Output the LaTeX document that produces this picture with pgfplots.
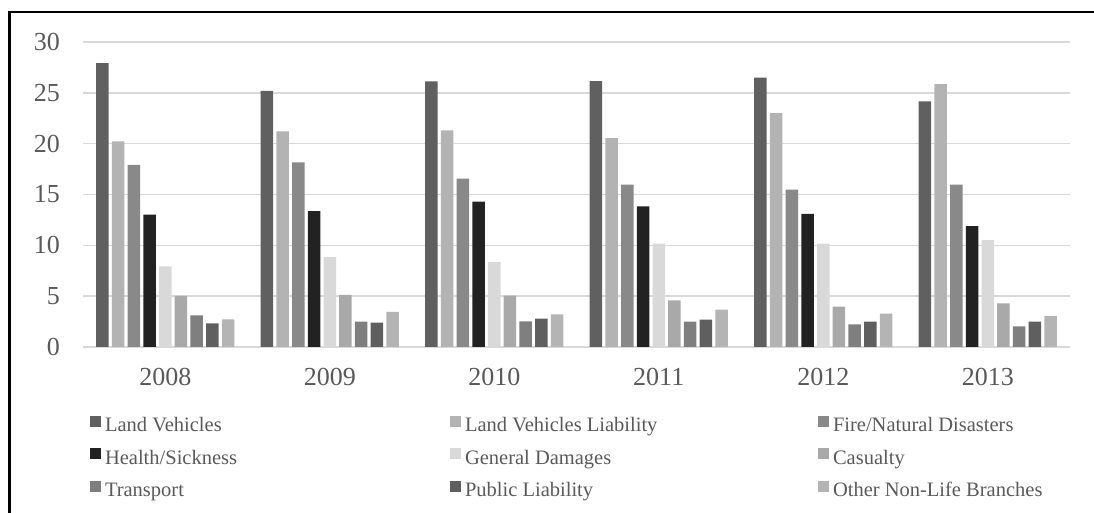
\documentclass[border=0pt]{standalone}
\usepackage{fontspec}
\setmainfont{Liberation Serif}
\usepackage{pgfplots}
\usepackage{pgfplotstable}
\pgfplotsset{compat=1.18}
\definecolor{txt}{HTML}{595959}
\definecolor{gridc}{HTML}{D9D9D9}
\definecolor{cLV}{HTML}{606060}
\definecolor{cLVL}{HTML}{B3B3B3}
\definecolor{cFire}{HTML}{898989}
\definecolor{cHealth}{HTML}{222222}
\definecolor{cGD}{HTML}{D9D9D9}
\definecolor{cCas}{HTML}{A9A9A9}
\definecolor{cTr}{HTML}{7F7F7F}
\definecolor{cPL}{HTML}{5F5F5F}
\definecolor{cOth}{HTML}{B4B4B4}
\pgfplotstableread{
x LV LVL Fire Health GD Cas Tr PL Oth
0 27.93 20.22 17.92 13.03 7.94 5.02 3.12 2.33 2.72
1 25.20 21.20 18.15 13.36 8.83 5.12 2.49 2.40 3.45
2 26.12 21.30 16.57 14.31 8.34 5.05 2.53 2.79 3.22
3 26.16 20.55 15.98 13.82 10.17 4.59 2.49 2.69 3.68
4 26.49 23.00 15.49 13.10 10.17 3.97 2.23 2.49 3.28
5 24.15 25.86 15.98 11.88 10.50 4.30 2.03 2.49 3.05
}\data
\newcommand{\colA}[1]{\makebox[345bp][l]{#1}}
\newcommand{\colB}[1]{\makebox[353bp][l]{#1}}
\begin{document}
\begin{tikzpicture}
\useasboundingbox (0,0) rectangle (1094bp,513bp);
\begin{axis}[
  scale only axis,
  width=987bp, height=305bp,
  at={(83bp,166bp)}, anchor=south west,
  ybar=3.2bp, bar width=12.5bp,
  xmin=-0.5, xmax=5.5, ymin=0, ymax=30,
  enlargelimits=false,
  xtick=data,
  xticklabels={2008,2009,2010,2011,2012,2013},
  ytick={0,5,10,15,20,25,30},
  axis line style={draw=none},
  major tick length=0pt,
  ymajorgrids,
  grid style={gridc, line width=1.5bp},
  /pgf/number format/assume math mode=true,
  ticklabel style={font=\fontsize{26bp}{30bp}\selectfont, text=txt, inner sep=0pt},
  xticklabel style={anchor=north, yshift=-21bp},
  yticklabel style={anchor=east, xshift=-23bp},
  legend columns=3,
  legend image code/.code={\fill[#1,draw=none] (0bp,1.2bp) rectangle (11bp,12.2bp); \path (15bp,0bp);},
  legend style={draw=none, fill=none, inner sep=0pt, outer sep=0pt,
    at={(0.00709,-0.2121)}, anchor=north west,
    row sep=0pt, column sep=0pt,
    font=\fontsize{20.5bp}{24bp}\selectfont, text=txt,
    nodes={inner sep=0pt, text height=20bp, text depth=12.5bp}},
  legend cell align=left,
]
\addplot[fill=cLV, draw=none] table[x=x,y=LV] {\data};
\addlegendentry{\colA{Land Vehicles}}
\addplot[fill=cLVL, draw=none] table[x=x,y=LVL] {\data};
\addlegendentry{\colB{Land Vehicles Liability}}
\addplot[fill=cFire, draw=none] table[x=x,y=Fire] {\data};
\addlegendentry{Fire/Natural Disasters}
\addplot[fill=cHealth, draw=none] table[x=x,y=Health] {\data};
\addlegendentry{\colA{Health/Sickness}}
\addplot[fill=cGD, draw=none] table[x=x,y=GD] {\data};
\addlegendentry{\colB{General Damages}}
\addplot[fill=cCas, draw=none] table[x=x,y=Cas] {\data};
\addlegendentry{Casualty}
\addplot[fill=cTr, draw=none] table[x=x,y=Tr] {\data};
\addlegendentry{\colA{Transport}}
\addplot[fill=cPL, draw=none] table[x=x,y=PL] {\data};
\addlegendentry{\colB{Public Liability}}
\addplot[fill=cOth, draw=none] table[x=x,y=Oth] {\data};
\addlegendentry{Other Non-Life Branches}
\end{axis}
\draw[black, line width=2.5bp] (9.7bp,0bp) -- (9.7bp,500.8bp) -- (1094bp,500.8bp);
\end{tikzpicture}
\end{document}
